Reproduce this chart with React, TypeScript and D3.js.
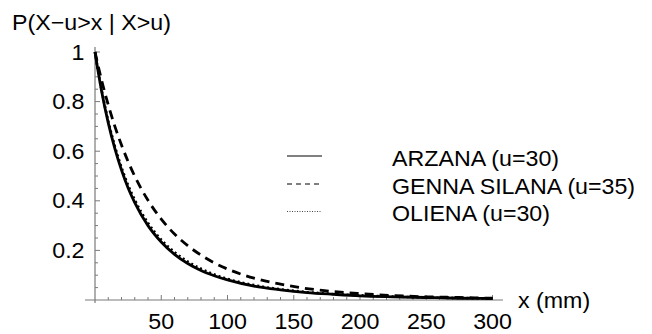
import React from "react";
import * as d3 from "d3";

const xValues = [0, 2, 5, 10, 15, 20, 25, 30, 40, 50, 60, 70, 80, 90, 100, 120, 140, 160, 180, 200, 225, 250, 275, 300];
const arzana = [1, 0.933, 0.842, 0.714, 0.61, 0.524, 0.452, 0.393, 0.3, 0.234, 0.184, 0.147, 0.119, 0.098, 0.081, 0.056, 0.041, 0.03, 0.023, 0.017, 0.013, 0.01, 0.007, 0.006];
const gennaSilana = [1, 0.953, 0.886, 0.787, 0.7, 0.625, 0.558, 0.499, 0.402, 0.326, 0.266, 0.219, 0.181, 0.15, 0.125, 0.088, 0.064, 0.046, 0.034, 0.026, 0.018, 0.013, 0.01, 0.007];
const oliena = [1, 0.935, 0.847, 0.722, 0.62, 0.535, 0.463, 0.404, 0.311, 0.243, 0.193, 0.155, 0.126, 0.103, 0.085, 0.06, 0.043, 0.032, 0.024, 0.019, 0.014, 0.01, 0.008, 0.006];

const seriesNames = ["ARZANA", "GENNA SILANA", "OLIENA"];
const seriesU = ["(u=30)", "(u=35)", "(u=30)"];
const xTickLabels = [50, 100, 150, 200, 250, 300];
const yTickLabels = [0.2, 0.4, 0.6, 0.8, 1];
const yTitle = "P(X\u2212u>x | X>u)";
const xTitle = "x (mm)";

const FONT = "'Liberation Sans', Arial, Helvetica, sans-serif";
const FS = 21.5;
const SX = 1.08;

function T({ x, y, anchor = "start", children }: any) {
  return (
    <text
      transform={`translate(${x},${y}) scale(${SX},1)`}
      textAnchor={anchor}
      fontFamily={FONT}
      fontSize={FS}
      fill="#000"
    >
      {children}
    </text>
  );
}

export default function App() {
  const x = d3.scaleLinear().domain([0, 300]).range([95, 492.5]);
  const y = d3.scaleLinear().domain([0, 1]).range([300, 52]);
  const axisColor = "#7a7a7a";

  const mk = (vals: number[]) =>
    d3
      .line<number>()
      .x((_, i) => x(xValues[i]))
      .y((d) => y(d))
      .curve(d3.curveMonotoneX)(vals) as string;

  const xMinor = x.ticks(30).filter((v) => v > 0);
  const yMinor = y.ticks(20).filter((v) => v > 0);
  const xMajor = new Set(xTickLabels);
  const yMajor = new Set(yTickLabels.map((v) => Math.round(v * 100)));

  const legendStyles = [
    { dash: undefined, color: "#000" },
    { dash: "5,4", color: "#000" },
    { dash: "1,1.5", color: "#444" },
  ];
  const legendY = [156, 184, 211.5];

  return (
    <svg
      width={652}
      height={334}
      style={{ position: "absolute", left: 0, top: 0, background: "#fff" }}
    >
      <rect width={652} height={334} fill="#fff" />
      {/* axes */}
      <line x1={85} x2={503} y1={y(0)} y2={y(0)} stroke={axisColor} strokeWidth={1.2} />
      <line x1={x(0)} x2={x(0)} y1={47} y2={303} stroke={axisColor} strokeWidth={1.2} />
      {xMinor.map((v) => (
        <line
          key={"xt" + v}
          x1={x(v)}
          x2={x(v)}
          y1={y(0)}
          y2={y(0) - (xMajor.has(v) ? 5 : 3)}
          stroke={axisColor}
          strokeWidth={1}
        />
      ))}
      {yMinor.map((v) => (
        <line
          key={"yt" + v}
          x1={x(0)}
          x2={x(0) + (yMajor.has(Math.round(v * 100)) ? 5 : 3)}
          y1={y(v)}
          y2={y(v)}
          stroke={axisColor}
          strokeWidth={1}
        />
      ))}
      {xTickLabels.map((v) => (
        <T key={"xl" + v} x={x(v)} y={328.5} anchor="middle">
          {v}
        </T>
      ))}
      {yTickLabels.map((v) => (
        <T key={"yl" + v} x={84.5} y={y(v) + 7.6} anchor="end">
          {String(v)}
        </T>
      ))}
      <T x={12} y={30}>{yTitle}</T>
      <T x={518} y={308}>{xTitle}</T>

      {/* curves */}
      <path d={mk(gennaSilana)} fill="none" stroke="#000" strokeWidth={2.8} strokeDasharray="9,6" />
      <path d={mk(arzana)} fill="none" stroke="#000" strokeWidth={2.8} />
      <path d={mk(oliena)} fill="none" stroke="#000" strokeWidth={2.6} strokeDasharray="2,3" />

      {/* legend */}
      {seriesNames.map((name, i) => (
        <g key={name}>
          <line
            x1={287}
            x2={322}
            y1={legendY[i]}
            y2={legendY[i]}
            stroke={legendStyles[i].color}
            strokeWidth={1}
            strokeDasharray={legendStyles[i].dash}
          />
          <T x={392} y={legendY[i] + 9.5}>
            {name} {seriesU[i]}
          </T>
        </g>
      ))}
    </svg>
  );
}
